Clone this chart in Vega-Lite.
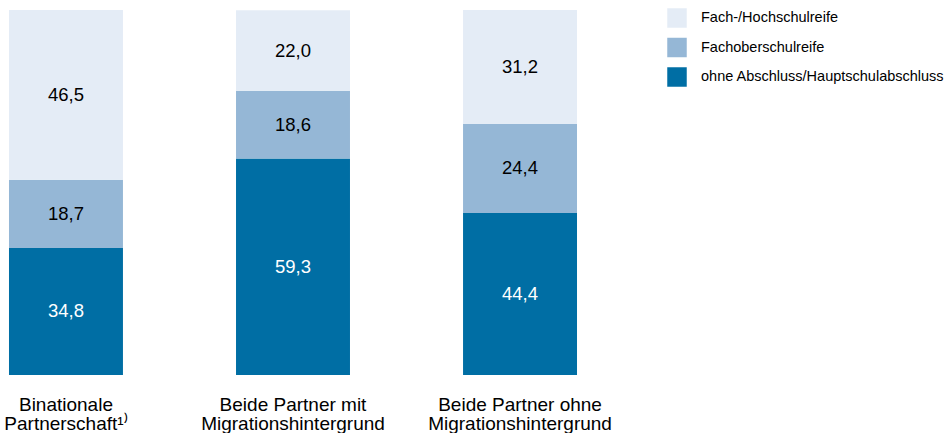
{
  "$schema": "https://vega.github.io/schema/vega-lite/v6.json",
  "width": 586,
  "height": 365,
  "autosize": "none",
  "padding": {"left": 0, "top": 10, "right": 362, "bottom": 58},
  "background": "white",
  "config": {
    "view": {"stroke": null},
    "font": "Liberation Sans",
    "locale": {"number": {"decimal": ",", "thousands": ".", "grouping": [3], "currency": ["", " €"]}}
  },
  "data": {
    "values": [
      {"gruppe": "Binationale|Partnerschaft¹⁾", "abschluss": "ohne Abschluss/Hauptschulabschluss", "ord": 1, "wert": 34.8},
      {"gruppe": "Binationale|Partnerschaft¹⁾", "abschluss": "Fachoberschulreife", "ord": 2, "wert": 18.7},
      {"gruppe": "Binationale|Partnerschaft¹⁾", "abschluss": "Fach-/Hochschulreife", "ord": 3, "wert": 46.5},
      {"gruppe": "Beide Partner mit|Migrationshintergrund", "abschluss": "ohne Abschluss/Hauptschulabschluss", "ord": 1, "wert": 59.3},
      {"gruppe": "Beide Partner mit|Migrationshintergrund", "abschluss": "Fachoberschulreife", "ord": 2, "wert": 18.6},
      {"gruppe": "Beide Partner mit|Migrationshintergrund", "abschluss": "Fach-/Hochschulreife", "ord": 3, "wert": 22.0},
      {"gruppe": "Beide Partner ohne|Migrationshintergrund", "abschluss": "ohne Abschluss/Hauptschulabschluss", "ord": 1, "wert": 44.4},
      {"gruppe": "Beide Partner ohne|Migrationshintergrund", "abschluss": "Fachoberschulreife", "ord": 2, "wert": 24.4},
      {"gruppe": "Beide Partner ohne|Migrationshintergrund", "abschluss": "Fach-/Hochschulreife", "ord": 3, "wert": 31.2}
    ]
  },
  "transform": [
    {"stack": "wert", "groupby": ["gruppe"], "sort": [{"field": "ord", "order": "ascending"}], "as": ["y0", "y1"]},
    {"calculate": "(datum.y0 + datum.y1) / 2", "as": "ymid"}
  ],
  "encoding": {
    "x": {
      "field": "gruppe",
      "type": "nominal",
      "sort": null,
      "scale": {"paddingInner": 0.498, "paddingOuter": 0.0396},
      "axis": {
        "title": null,
        "domain": false,
        "ticks": false,
        "labelAngle": 0,
        "labelFontSize": 19,
        "labelColor": "#000000",
        "labelPadding": 20,
        "labelLineHeight": 19.5,
        "labelBaseline": "top",
        "labelLimit": 400,
        "labelExpr": "split(datum.label, '|')"
      }
    }
  },
  "layer": [
    {
      "mark": {"type": "bar"},
      "encoding": {
        "y": {"field": "y0", "type": "quantitative", "scale": {"domain": [0, 100]}, "axis": null},
        "y2": {"field": "y1"},
        "color": {
          "field": "abschluss",
          "type": "nominal",
          "scale": {
            "domain": ["Fach-/Hochschulreife", "Fachoberschulreife", "ohne Abschluss/Hauptschulabschluss"],
            "range": ["#e4ecf6", "#95b7d6", "#006ea4"]
          },
          "legend": {
            "title": null,
            "orient": "none",
            "legendX": 667,
            "legendY": -2,
            "symbolType": "square",
            "symbolSize": 380,
            "symbolStrokeWidth": 0,
            "labelFontSize": 14.5,
            "labelLimit": 400,
            "labelColor": "#000000",
            "labelOffset": 14,
            "rowPadding": 9.5,
            "padding": 0,
            "offset": 0
          }
        }
      }
    },
    {
      "mark": {"type": "text", "fontSize": 18.5, "baseline": "middle", "align": "center"},
      "encoding": {
        "y": {"field": "ymid", "type": "quantitative", "scale": {"domain": [0, 100]}},
        "text": {"field": "wert", "type": "quantitative", "format": ".1f"},
        "color": {
          "condition": {"test": "datum.ord === 1", "value": "#ffffff"},
          "value": "#000000"
        }
      }
    }
  ]
}
